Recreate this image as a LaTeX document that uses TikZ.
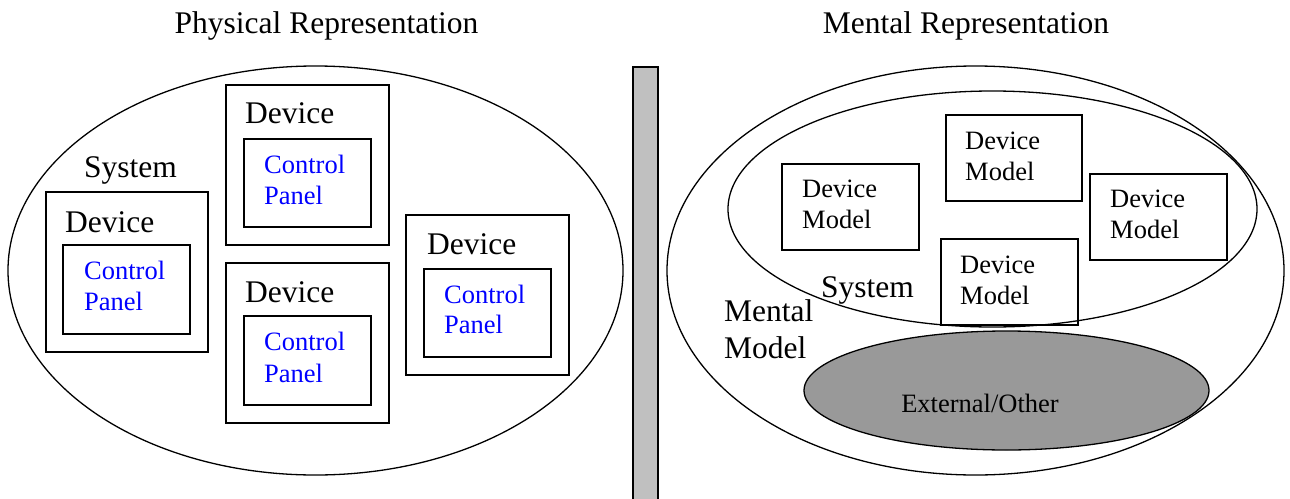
\documentclass[tikz,border=0pt]{standalone}
\usepackage{fontspec}
\setmainfont{Liberation Serif}
\usetikzlibrary{shapes.geometric}
\definecolor{bargray}{HTML}{C0C0C0}
\definecolor{extgray}{HTML}{999999}
\definecolor{cpblue}{HTML}{0000FF}
\tikzset{
  big/.style={font=\fontsize{31.5}{32}\selectfont, inner sep=0pt, anchor=base west},
  small/.style={font=\fontsize{26.5}{31}\selectfont, inner sep=0pt, anchor=base west},
  cptext/.style={small, text=cpblue},
  boxshape/.style={draw, line width=1.6pt, rectangle, inner sep=0pt, anchor=north west},
  oval/.style={draw, ellipse, line width=1.3pt, inner sep=0pt},
}
\newcommand{\boxat}[5]{\node[boxshape, minimum width=#4-#2, minimum height=#5-#3] (#1) at (#2,#3) {};}
\begin{document}
\begin{tikzpicture}[x=1pt,y=-1pt]
\useasboundingbox (0,0) rectangle (1290,498);
% titles
\node[big, anchor=base] (t1) at (326.5,33) {Physical Representation};
\node[big, anchor=base] (t2) at (966,33) {Mental Representation};
% divider bar
\node[draw, line width=1.6pt, fill=bargray, rectangle, inner sep=0pt, anchor=north west, minimum width=25, minimum height=440] (bar) at (632,66) {};
% ---------- left: physical ----------
\node[oval, minimum width=615, minimum height=409] (sys) at (315.5,270.5) {};
\node[big] (syslbl) at (84,177) {System};
% left device
\boxat{d1}{45}{191}{207}{351}
\boxat{c1}{62}{244}{189}{333}
\node[big] (d1l) at (65,232) {Device};
\node[cptext] (c1a) at (84,279) {Control};
\node[cptext] (c1b) at (84,310) {Panel};
% top middle device
\boxat{d2}{225}{84}{388}{244}
\boxat{c2}{243}{138}{370}{226}
\node[big] (d2l) at (245,123) {Device};
\node[cptext] (c2a) at (264,173) {Control};
\node[cptext] (c2b) at (264,204) {Panel};
% bottom middle device
\boxat{d3}{225}{262}{388}{422}
\boxat{c3}{243}{315}{370}{404}
\node[big] (d3l) at (245,302) {Device};
\node[cptext] (c3a) at (264,350) {Control};
\node[cptext] (c3b) at (264,382) {Panel};
% right device
\boxat{d4}{405}{214}{568}{374}
\boxat{c4}{423}{268}{550}{356}
\node[big] (d4l) at (427,254) {Device};
\node[cptext] (c4a) at (444,303) {Control};
\node[cptext] (c4b) at (444,333) {Panel};
% ---------- right: mental ----------
\node[oval, minimum width=617, minimum height=409] (mm) at (975.5,270.5) {};
\node[oval, minimum width=529, minimum height=236] (msys) at (992.5,209) {};
\node[oval, fill=extgray, minimum width=405, minimum height=119] (ext) at (1006.5,390.5) {};
\node[small, anchor=base] (extl) at (980,412) {External/Other};
\node[big] (msysl) at (821,297) {System};
\node[big] (mml1) at (724,321) {Mental};
\node[big] (mml2) at (724,358) {Model};
% device models
\boxat{m1}{781}{163}{918}{249}
\node[small] (m1a) at (802,197) {Device};
\node[small] (m1b) at (802,228) {Model};
\boxat{m2}{945}{114}{1081}{200}
\node[small] (m2a) at (965,149) {Device};
\node[small] (m2b) at (965,180) {Model};
\boxat{m3}{1089}{173}{1226}{259}
\node[small] (m3a) at (1110,207) {Device};
\node[small] (m3b) at (1110,238) {Model};
\boxat{m4}{940}{238}{1077}{324}
\node[small] (m4a) at (960,273) {Device};
\node[small] (m4b) at (960,304) {Model};
\end{tikzpicture}
\end{document}
